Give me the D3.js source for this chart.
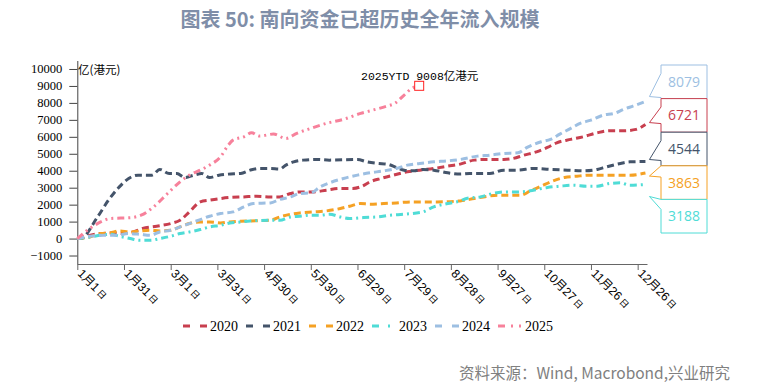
<!DOCTYPE html>
<html><head><meta charset="utf-8">
<script src="https://cdn.jsdelivr.net/npm/d3@7"></script>
<style>body{margin:0;background:#fff}svg{display:block}</style>
</head><body><svg id="c" width="762" height="391"></svg>
<script>
// ---- data (day index from Jan 1, cumulative southbound inflow, 亿港元) ----
const years = ["2020","2021","2022","2023","2024","2025"];
const colors = ["#c83f4f","#44546a","#f5a124","#4fdcd6","#9dbfe2","#f7819b"];
const days2020 = [0,15,23,30,36,42,51,60,66,72,79,85,98,107,115,124,130,137,143,152,160,169,177,183,188,195,203,212,220,229,238,246,255,263,274,280,287,295,302,308,317,325,334,342,351,359,365];
const vals2020 = [0,295,330,295,390,590,726,886,1080,1571,2162,2262,2422,2457,2498,2457,2457,2658,2753,2753,2853,2953,2953,3089,3343,3544,3739,3934,4034,4135,4270,4389,4625,4665,4665,4725,4920,5115,5375,5647,5848,6001,6237,6356,6356,6438,6721];
const days2021 = [0,2,13,20,27,33,39,48,53,59,64,69,75,80,85,91,97,105,111,117,124,130,134,139,145,154,162,180,186,193,199,205,210,216,222,229,238,246,252,265,274,283,293,304,315,325,334,340,349,355,365];
const vals2021 = [0,0,1276,2262,3048,3544,3739,3739,4076,3839,3839,3603,3739,3839,3603,3739,3800,3839,4034,4135,4135,4100,4330,4524,4625,4665,4625,4665,4524,4430,4389,4193,4034,3993,4076,4034,3875,3800,3839,3839,4034,4034,4135,4076,4034,3993,4076,4230,4430,4524,4544];
const days2022 = [0,8,15,21,27,34,40,47,53,60,66,72,79,85,92,98,105,111,124,130,137,143,152,160,169,175,182,188,197,205,214,231,246,255,261,270,285,291,298,304,313,321,330,355,365];
const vals2022 = [0,95,295,330,450,390,450,490,450,490,685,886,980,980,920,980,1020,1040,1080,1276,1435,1512,1571,1630,1772,1908,2067,2026,2067,2103,2162,2162,2221,2363,2457,2558,2558,2812,3089,3343,3603,3680,3739,3739,3863];
const days2023 = [0,8,15,21,27,34,40,47,53,60,66,72,79,85,92,98,105,111,124,130,137,143,150,156,162,169,175,184,193,201,210,218,222,229,238,246,250,259,267,276,285,293,302,310,319,327,334,342,349,355,365];
const vals2023 = [0,95,195,255,135,0,-100,-100,0,135,295,390,530,685,785,920,980,1040,1080,1080,1276,1317,1376,1376,1435,1276,1181,1240,1276,1376,1435,1512,1571,1866,2067,2221,2363,2457,2658,2753,2753,2853,3013,3089,3148,3089,3089,3249,3284,3148,3188];
const days2024 = [0,8,17,25,33,40,47,53,60,66,72,79,85,92,100,107,113,124,130,137,143,150,156,162,171,180,188,197,205,212,220,229,238,246,257,265,274,283,289,298,304,310,317,323,330,338,345,351,357,365];
const vals2024 = [0,135,195,195,295,255,195,390,490,685,886,1122,1317,1476,1571,1866,2067,2103,2304,2457,2658,2693,3048,3284,3544,3739,3875,3993,4135,4330,4430,4524,4584,4665,4861,4920,5020,5056,5375,5706,5848,6160,6497,6793,6988,7283,7383,7620,7814,8079];
const days2025 = [0,8,15,21,35,41,49,58,66,72,79,85,92,97,100,107,112,117,126,134,141,150,160,171,182,190,199,204,210,215,219];
const vals2025 = [0,590,980,1180,1240,1376,1866,2658,3343,3739,4034,4330,4820,5511,5806,6001,6237,6042,6160,5906,6202,6497,6793,7029,7383,7578,7814,7974,8464,8860,9008];
const tickDays = [0,30,60,90,120,150,180,210,240,270,300,330,360];
const tickMonthDay = ["1月1","1月31","3月1","3月31","4月30","5月30","6月29","7月29","8月28","9月27","10月27","11月26","12月26"];
const yTicks = [-1000,0,1000,2000,3000,4000,5000,6000,7000,8000,9000,10000];
const calloutOrder = ["2024","2020","2021","2022","2023"];
const titleText = "图表 50: 南向资金已超历史全年流入规模";
const annotText = "2025YTD 9008亿港元";
const unitText = "亿(港元)";
const sourceText = "资料来源：Wind, Macrobond,兴业研究";

const allDays = [days2020,days2021,days2022,days2023,days2024,days2025];
const allVals = [vals2020,vals2021,vals2022,vals2023,vals2024,vals2025];
const dashes = ["7,4","7,4","7,4","7,4,2,4","7,4","7,4,2,4,2,4"];

const svg = d3.select("#c");
const x = d3.scaleLinear().domain([0,366]).range([77.3,647]);
const y = d3.scaleLinear().domain([-1500,10500]).range([264,60.5]);

// title
svg.append("text").attr("x",360).attr("y",27).attr("text-anchor","middle")
  .attr("font-family","'Noto Sans CJK SC',sans-serif").attr("font-weight","bold")
  .attr("font-size",20).attr("fill","#7f8ea8").text(titleText);

// y axis
const ya = svg.append("g").attr("transform","translate(77.3,0)")
  .call(d3.axisLeft(y).tickValues(yTicks).tickFormat(d3.format("d")).tickSize(8).tickSizeOuter(0).tickPadding(7));
ya.selectAll("text").attr("font-family","'Liberation Serif',serif").attr("font-size",12.5).attr("fill","#000");
ya.selectAll("line,path").attr("stroke","#444");

// x axis
const xa = svg.append("g").attr("transform","translate(0,264)")
  .call(d3.axisBottom(x).tickValues(tickDays).tickSize(6).tickSizeOuter(0).tickFormat(""));
xa.selectAll("line,path").attr("stroke","#666");
const xl = svg.append("g");
tickDays.forEach((d,i)=>{
  const t = xl.append("text").attr("transform",`translate(${x(d)+1},270) rotate(45)`)
    .attr("x",2).attr("y",4).attr("font-family","'Liberation Sans','Noto Sans CJK SC',sans-serif")
    .attr("font-size",12).attr("fill","#000");
  t.append("tspan").text(tickMonthDay[i]);
  t.append("tspan").attr("font-size",9).attr("dx",2).text("日");
});

// unit
svg.append("text").attr("x",78).attr("y",74).attr("font-family","'Noto Sans CJK SC',sans-serif")
  .attr("font-size",11.5).attr("fill","#000").text(unitText);

// lines
const line = d3.line().x(d=>x(d[0])).y(d=>y(d[1])).curve(d3.curveMonotoneX);
years.forEach((yr,i)=>{
  const pts = allDays[i].map((d,j)=>[d,allVals[i][j]]);
  svg.append("path").datum(pts).attr("d",line).attr("fill","none")
    .attr("stroke",colors[i]).attr("stroke-width",3).attr("stroke-dasharray",dashes[i]);
});

// 2025 annotation
const lastD = days2025[days2025.length-1], lastV = vals2025[vals2025.length-1];
svg.append("rect").attr("x",x(lastD)-3.5).attr("y",y(lastV)-4.5).attr("width",9).attr("height",9)
  .attr("fill","none").attr("stroke","#ff2020").attr("stroke-width",1);
svg.append("text").attr("x",361).attr("y",80).attr("font-family","'Liberation Mono','Noto Sans CJK SC',monospace")
  .attr("font-size",11.5).attr("fill","#000").text(annotText);

// callouts
const bx = 661, bw = 46, bh = 33.6, by0 = 65;
const tipDy = [-5,-2,-2,3,12];
calloutOrder.forEach((yr,k)=>{
  const i = years.indexOf(yr);
  const v = allVals[i][allVals[i].length-1];
  const top = by0 + k*bh, bot = top + bh;
  const tipX = x(365)+4, tipY = y(v)+tipDy[k];
  const b1 = Math.max(top, Math.min(tipY-14, top+bh*0.25));
  const b2 = Math.min(bot, Math.max(tipY+1, b1+10));
  const p = `M${bx},${top}H${bx+bw}V${bot}H${bx}V${b2}L${tipX},${tipY}L${bx},${b1}Z`;
  svg.append("path").attr("d",p).attr("fill","#fff").attr("stroke",colors[i]).attr("stroke-width",1);
  svg.append("text").attr("x",bx+bw/2).attr("y",top+bh/2+5).attr("text-anchor","middle")
    .attr("font-family","'Open Sans',sans-serif").attr("font-size",14).attr("fill",colors[i]).text(v);
});

// legend
const lg = svg.append("g");
years.forEach((yr,i)=>{
  const lx = 183 + i*63;
  lg.append("line").attr("x1",lx).attr("x2",lx+24).attr("y1",326).attr("y2",326)
    .attr("stroke",colors[i]).attr("stroke-width",3).attr("stroke-dasharray",i===3?"7,9,2,9":i===5?"7,6,2,6,2,6":"7,10");
  lg.append("text").attr("x",lx+27).attr("y",331).attr("font-family","'Liberation Serif',serif")
    .attr("font-size",14).attr("fill","#000").text(yr);
});

// source
svg.append("text").attr("x",730).attr("y",379).attr("text-anchor","end")
  .attr("font-family","'Noto Sans CJK SC',sans-serif").attr("font-size",15.5).attr("fill","#808080").text(sourceText);
</script></body></html>
